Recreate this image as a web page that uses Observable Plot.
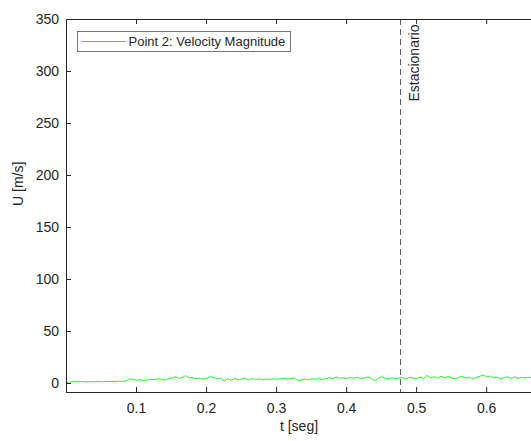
<!DOCTYPE html>
<html>
<head>
<meta charset="utf-8">
<script src="https://cdn.jsdelivr.net/npm/d3@7"></script>
<script src="https://cdn.jsdelivr.net/npm/@observablehq/plot@0.6"></script>
<style>
  body { margin: 0; background: #fff; }
  #chart { position: relative; width: 531px; height: 441px; overflow: hidden; }
</style>
</head>
<body>
<div id="chart"></div>
<script>
// ---- data ----
const tStart = 0;
const tStep = 0.005; // uniform sampling grid of the signal
const velocity = [
  0.8, 1.5, 1.8, 1.6, 1.9, 1.7, 1.5, 1.8, 1.6, 2.0, 1.7, 1.8, 2.1, 1.9, 1.7, 2.2, 2.0,
  2.5, 4.6, 3.8, 3.2, 3.6, 2.9, 3.4, 4.2, 3.7, 4.5, 4.1, 3.3, 4.8, 5.2, 6.5, 4.9,
  5.6, 7.6, 5.4, 5.9, 4.6, 5.2, 4.1, 4.8, 6.6, 5.8, 4.3, 5.1, 2.2, 4.6, 3.1, 4.9,
  3.6, 4.4, 5.2, 3.4, 4.7, 4.0, 4.5, 3.8, 4.3, 4.1, 4.6, 3.9, 4.4, 5.3, 4.2, 4.8,
  5.4, 3.0, 3.4, 4.3, 3.5, 4.6, 4.1, 4.9, 3.9, 4.5, 5.6, 4.8, 6.2, 5.1, 5.5, 4.7,
  5.8, 5.2, 6.0, 4.9, 5.4, 6.3, 5.0, 2.6, 4.8, 6.6, 5.2, 4.4, 5.6, 4.6, 5.3, 5.9,
  4.5, 6.0, 5.1, 4.7, 6.3, 5.0, 7.8, 5.5, 6.4, 4.9, 7.0, 5.6, 6.7, 5.2, 4.6, 5.9,
  6.8, 5.3, 6.2, 4.4, 5.8, 6.9, 8.2, 6.5, 7.2, 5.4, 6.1, 4.5, 5.7, 6.4, 5.0, 6.6,
  4.8, 5.9, 5.3, 6.1, 5.5
];
const xTicks = [0.1, 0.2, 0.3, 0.4, 0.5, 0.6];
const yTicks = [0, 50, 100, 150, 200, 250, 300, 350];
const xDomain = [0, 0.664];
const yDomain = [-8.65, 350];
const steadyT = [0.477];
const steadyLabel = ["Estacionario"];
const legendLabel = "Point 2: Velocity Magnitude";
const xLabel = ["t [seg]"];
const yLabel = ["U [m/s]"];

const series = velocity.map((u, i) => ({ t: tStart + i * tStep, u }));

// ---- styles ----
const axisColor = "#262626";
const lineColor = "#00ff00";
const font = "'Liberation Sans', Arial, Helvetica, sans-serif";
const tickLenY = (yDomain[1] - yDomain[0]) * 5 / 373;
const tickLenX = (xDomain[1] - xDomain[0]) * 5 / 465;

const plot = Plot.plot({
  width: 531,
  height: 441,
  marginLeft: 66,
  marginRight: 0,
  marginTop: 19,
  marginBottom: 49,
  style: { fontFamily: font, fontSize: "14px", color: axisColor, background: "#fff", overflow: "visible" },
  x: { domain: xDomain, ticks: xTicks, tickSize: 0, tickPadding: 11, tickFormat: d => String(d), label: null },
  y: { domain: yDomain, ticks: yTicks, tickSize: 0, tickPadding: 7.5, tickFormat: d => String(d), label: null },
  marks: [
    Plot.line(series, { x: "t", y: "u", stroke: lineColor, strokeWidth: 0.9 }),
    Plot.ruleX(steadyT, { x: d => d, stroke: "#444", strokeWidth: 0.9, strokeDasharray: "6,4" }),
    Plot.text(steadyLabel, {
      x: steadyT, text: d => d, frameAnchor: "top", rotate: -90, textAnchor: "end",
      dx: 9, dy: 5, fontSize: 14, fill: axisColor
    }),
    // axes box (left, bottom, top)
    Plot.ruleX([xDomain[0]], { x: d => d, stroke: axisColor }),
    Plot.ruleY([yDomain[0]], { y: d => d, stroke: axisColor }),
    Plot.ruleY([yDomain[1]], { y: d => d, stroke: axisColor }),
    // inward ticks
    Plot.ruleX(xTicks, { x: d => d, y1: yDomain[0], y2: yDomain[0] + tickLenY, stroke: axisColor }),
    Plot.ruleX(xTicks, { x: d => d, y1: yDomain[1], y2: yDomain[1] - tickLenY, stroke: axisColor }),
    Plot.ruleY(yTicks, { y: d => d, x1: xDomain[0], x2: xDomain[0] + tickLenX, stroke: axisColor }),
    // axis labels
    Plot.text(xLabel, { text: d => d, frameAnchor: "bottom", dy: 38, fontSize: 14, fill: axisColor }),
    Plot.text(yLabel, { text: d => d, frameAnchor: "left", rotate: -90, dx: -48, fontSize: 14, fill: axisColor })
  ]
});

document.getElementById("chart").appendChild(plot);

// legend inside the axes (upper-left)
const svg = d3.select(plot);
const lg = svg.append("g").attr("font-family", font).attr("font-size", 13).attr("text-anchor", "start");
lg.append("rect").attr("x", 77.5).attr("y", 31.5).attr("width", 213).attr("height", 20)
  .attr("fill", "#fff").attr("stroke", "#555").attr("stroke-width", 0.8);
lg.append("path").attr("d", "M82,41.5H125")
  .attr("fill", "none").attr("stroke", lineColor).attr("stroke-width", 1);
lg.append("text").attr("x", 128.5).attr("y", 41.5).attr("dy", "0.35em")
  .attr("text-anchor", "start").attr("fill", axisColor).text(legendLabel);
</script>
</body>
</html>
